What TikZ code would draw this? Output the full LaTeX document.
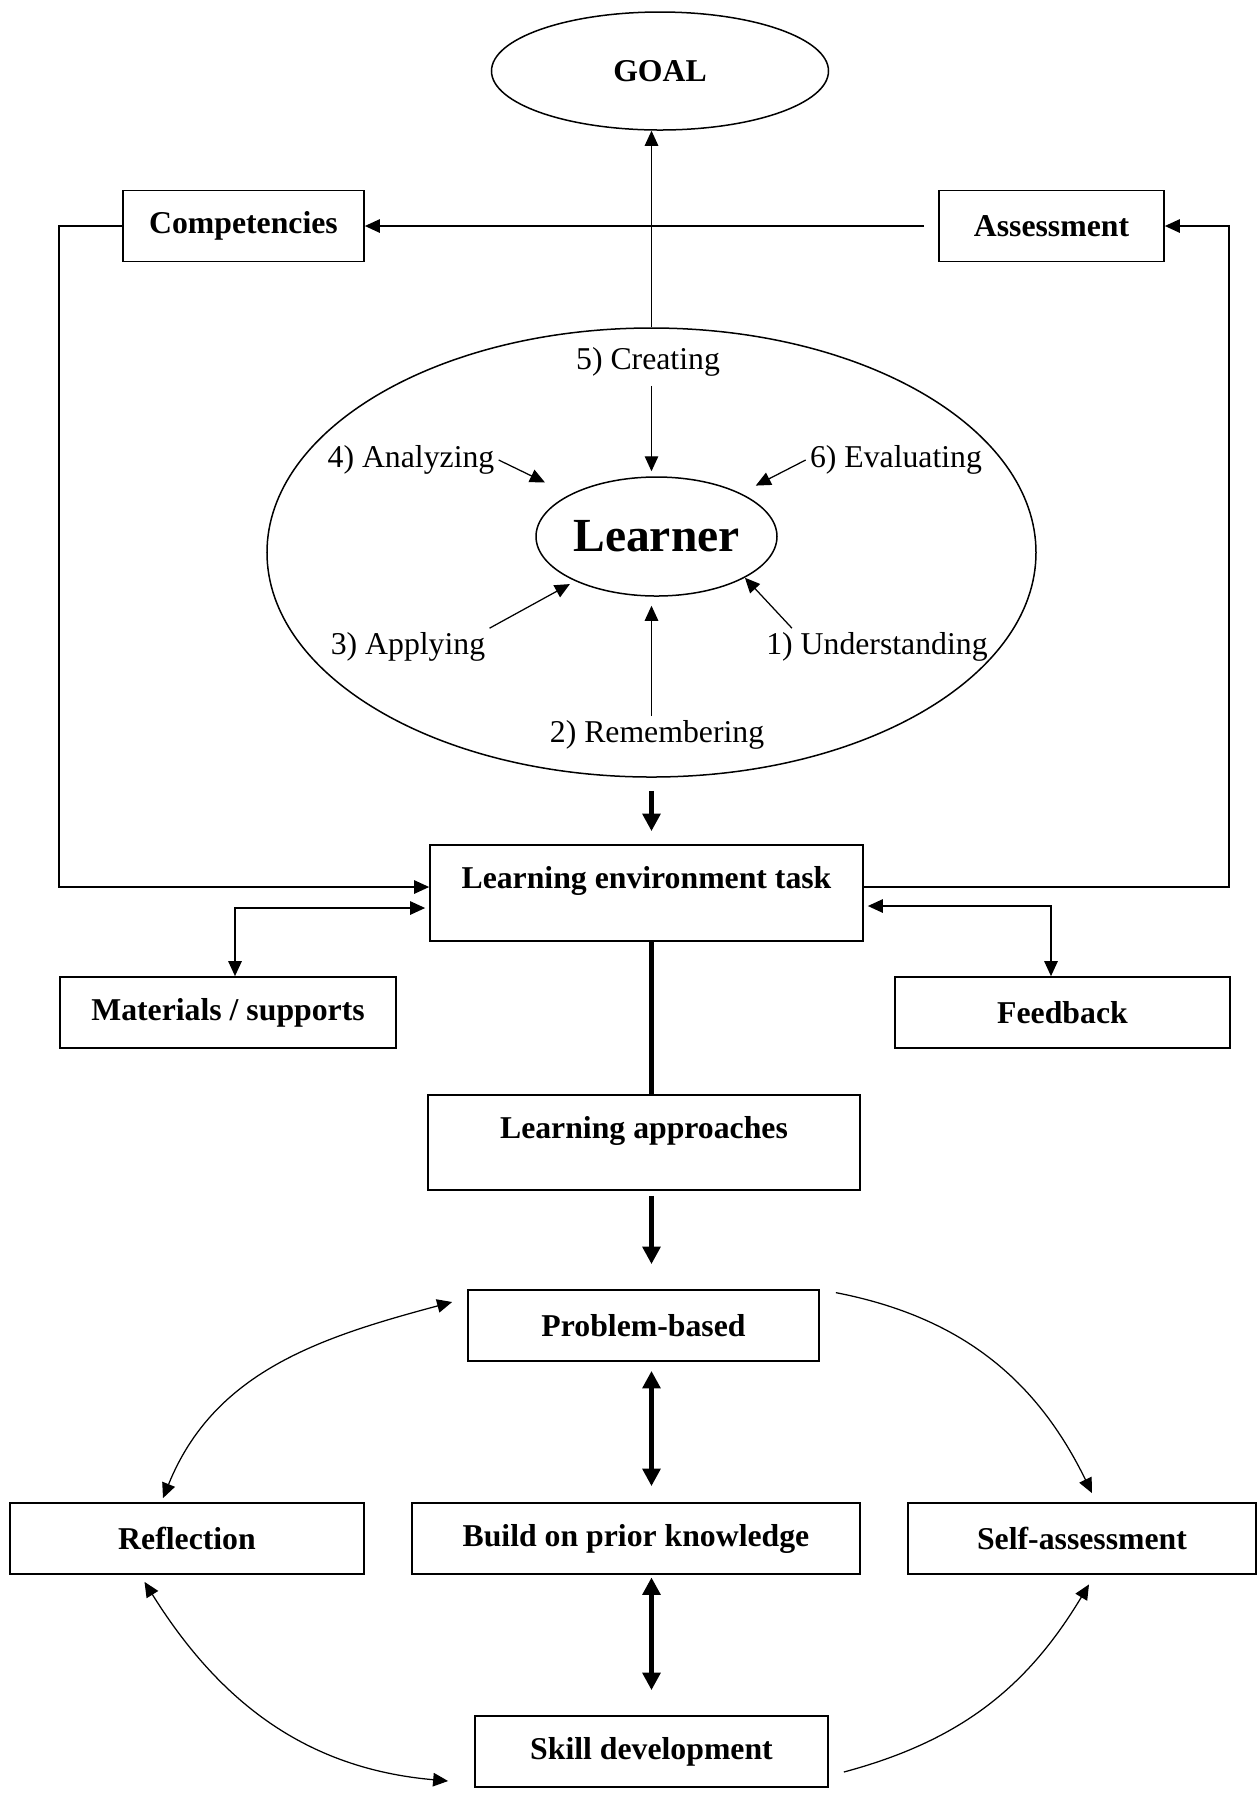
\documentclass[tikz,border=0pt]{standalone}
\usepackage{fontspec}
\setmainfont{Liberation Serif}
\usetikzlibrary{arrows.meta,shapes.geometric}
\newcommand\mainsize{\fontsize{12.7pt}{15pt}\selectfont}
\tikzset{
  box/.style={draw,line width=0.7pt,inner sep=0pt,minimum height=28.4pt,font=\mainsize\bfseries},
  oval/.style={draw,ellipse,line width=0.6pt,inner sep=0pt},
  lbl/.style={inner sep=1.5pt,font=\mainsize},
  thickarrow/.style={line width=2pt,-{Triangle[length=7pt,width=7pt]}},
  thickboth/.style={line width=2pt,{Triangle[length=7pt,width=7pt]}-{Triangle[length=7pt,width=7pt]}}
}
\begin{document}
\begin{tikzpicture}[>={Triangle[length=6pt,width=5.4pt]},x=0.4pt,y=0.4pt,line width=0.5pt]
  \useasboundingbox (0,0) rectangle (1258,-1796);
  % top part
  \node[oval,minimum width=134.8pt,minimum height=47.2pt,font=\mainsize\bfseries] (goal) at (660,-71) {GOAL};
  \node[box,minimum width=96.4pt] (comp) at (243.5,-226) {Competencies};
  \node[box,minimum width=90pt] (assess) at (1051.5,-226) {Assessment};
  \node[oval,minimum width=307.6pt,minimum height=179.6pt] (outer) at (651.5,-552.5) {};
  \node[oval,minimum width=96.4pt,minimum height=47.6pt,font=\fontsize{19pt}{22pt}\selectfont\bfseries] (learner) at (656.5,-536.5) {Learner};
  \node[lbl] (creating) at (648,-362) {5) Creating};
  \node[lbl] (analyzing) at (411,-460) {4) Analyzing};
  \node[lbl] (evaluating) at (896,-460) {6) Evaluating};
  \node[lbl] (applying) at (408,-647) {3) Applying};
  \node[lbl] (understanding) at (877,-647) {1) Understanding};
  \node[lbl] (remembering) at (657,-735) {2) Remembering};
  % middle part
  \node[box,minimum width=173.2pt,text height=17.2pt,text depth=21.2pt] (let) at (646.5,-893) {Learning environment task};
  \node[box,minimum width=134.4pt] (mat) at (228,-1012.5) {Materials / supports};
  \node[box,minimum width=134pt] (fb) at (1062.5,-1012.5) {Feedback};
  \node[box,minimum width=172.8pt,text height=17.2pt,text depth=20.8pt] (la) at (644,-1142.5) {Learning approaches};
  % bottom part
  \node[box,minimum width=140.4pt] (pb) at (643.5,-1325.5) {Problem-based};
  \node[box,minimum width=141.6pt] (refl) at (187,-1538.5) {Reflection};
  \node[box,minimum width=179.2pt] (build) at (636,-1538.5) {Build on prior knowledge};
  \node[box,minimum width=139.2pt] (self) at (1082,-1538.5) {Self-assessment};
  \node[box,minimum width=141.2pt] (skill) at (651.5,-1751.5) {Skill development};

  \draw[->] (outer.north) -- (outer.north |- goal.south);
  \draw[->,shorten <=5.6pt] (assess) -- (comp);
  \draw[->] (comp.west) -- ([xshift=-25.2pt]comp.west) |- ([yshift=2.4pt]let.west);
  \draw[->] ([yshift=2.4pt]let.east) -| ([xshift=25.6pt]assess.east) -- (assess.east);
  \draw[->,shorten <=2pt,shorten >=2pt] (outer.north |- creating.south) -- (outer.north |- learner.north);
  \draw[->,shorten >=11pt] (analyzing.east) -- (learner);
  \draw[->,shorten >=6.7pt] (evaluating.west) -- (learner);
  \draw[->,shorten >=2.4pt] (applying.north east) -- (learner);
  \draw[->] ([xshift=12pt]understanding.north west) -- (learner.-25);
  \draw[->,shorten >=3.6pt] (outer.south |- remembering.north) -- (outer.south |- learner.south);

  \draw[thickarrow,shorten <=5.2pt,shorten >=5.2pt] (outer.south) -- (outer.south |- let.north);
  \draw[<->,shorten <=1.6pt] ([yshift=-6pt]let.west) -| ([xshift=2.8pt]mat.north);
  \draw[<->,shorten <=1.6pt] ([yshift=-5.2pt]let.east) -| ([xshift=-4.6pt]fb.north);
  \draw[line width=2pt] (outer.south |- let.south) -- (outer.south |- la.north);
  \draw[thickarrow,shorten <=2pt,shorten >=10pt] (outer.south |- la.south) -- (outer.south |- pb.north);
  \draw[thickboth,shorten <=3.6pt,shorten >=6.4pt] (outer.south |- pb.south) -- (outer.south |- build.north);
  \draw[thickboth,shorten <=1pt,shorten >=10pt] (outer.south |- build.south) -- (outer.south |- skill.north);

  \draw[<->] ([xshift=-9.6pt,yshift=1.6pt]refl.north) to[out=68,in=195] ([xshift=-6pt,yshift=9.4pt]pb.west);
  \draw[->] ([xshift=6.4pt,yshift=-1.4pt]pb.north east) to[out=-11,in=116] ([xshift=4pt,yshift=3.6pt]self.north);
  \draw[<->] ([xshift=-17pt,yshift=-2.8pt]refl.south) to[out=-58,in=175] ([xshift=-10.4pt,yshift=-11.8pt]skill.west);
  \draw[->] ([xshift=6pt,yshift=-8.2pt]skill.east) to[out=15,in=239] ([xshift=2.8pt,yshift=-3.8pt]self.south);
\end{tikzpicture}
\end{document}
